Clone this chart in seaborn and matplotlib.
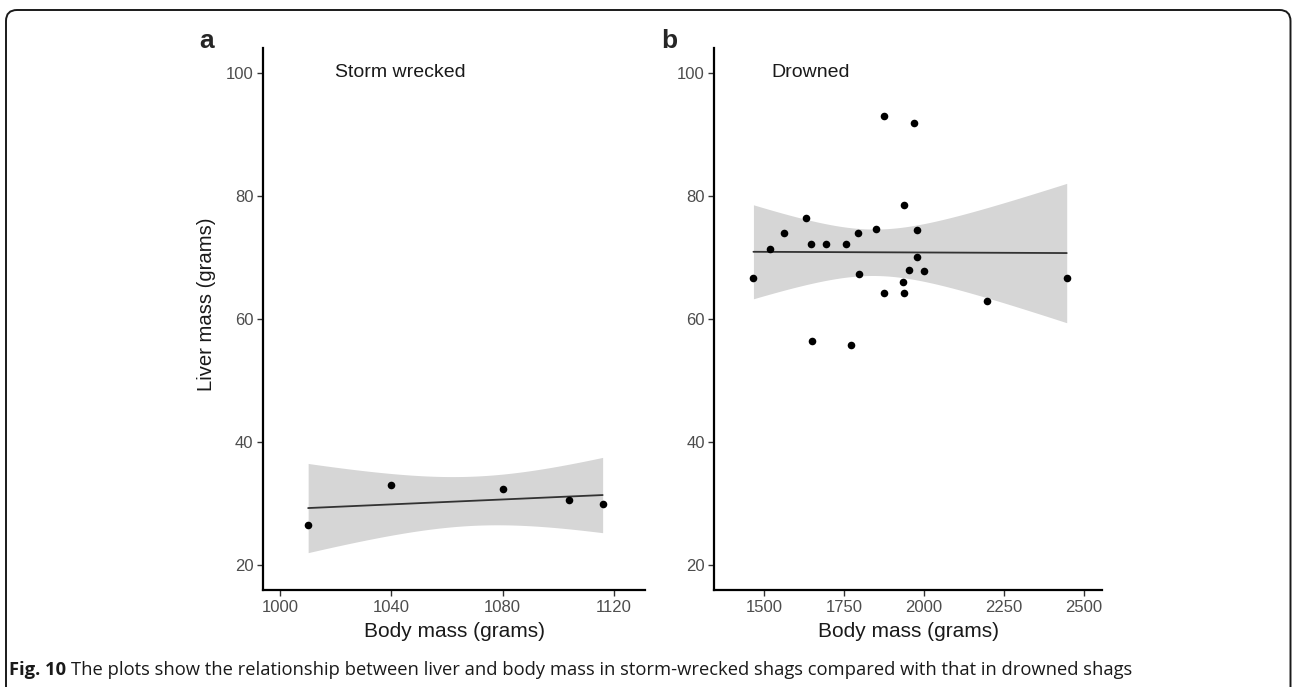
import numpy as np
import pandas as pd
import matplotlib
matplotlib.use("Agg")
import matplotlib.pyplot as plt
import matplotlib.patches as mpatches
from matplotlib.transforms import IdentityTransform
import seaborn as sns

# storm wrecked shags
storm_mass = [1010, 1040, 1080, 1104, 1116]
storm_liver = [26.5, 33.1, 32.4, 30.6, 29.9]

# drowned shags
drowned_mass = [1467, 1519, 1562, 1632, 1646, 1650, 1694, 1755, 1772, 1795, 1798, 1851,
                1874, 1874, 1934, 1938, 1938, 1952, 1969, 1977, 1977, 2000, 2197, 2446]
drowned_liver = [66.6, 71.4, 73.9, 76.4, 72.1, 56.4, 72.1, 72.1, 55.7, 73.9, 67.3, 74.6,
                 92.9, 64.2, 66.0, 78.5, 64.2, 68.0, 91.8, 74.4, 70.1, 67.8, 63.0, 66.6]

y_ticks = [20, 40, 60, 80, 100]
storm_ticks = [1000, 1040, 1080, 1120]
drowned_ticks = [1500, 1750, 2000, 2250, 2500]

# t quantiles (0.975) for df = n - 2
T975 = {3: 3.182446, 22: 2.073873}

sns.set_style("ticks")
plt.rcParams['font.family'] = ['Liberation Sans', 'DejaVu Sans']

W, H = 1292, 687
fig = plt.figure(figsize=(W / 100, H / 100), dpi=100)
ax_a = fig.add_axes([263 / W, 97 / H, 382 / W, 542 / H])
ax_b = fig.add_axes([714.4 / W, 97 / H, 387.2 / W, 542 / H])


def lm_band(x, y):
    # linear fit with 95% confidence band, like geom_smooth(method="lm")
    x = np.asarray(x, float)
    y = np.asarray(y, float)
    n = len(x)
    b, a = np.polyfit(x, y, 1)
    res = y - (a + b * x)
    s = np.sqrt((res ** 2).sum() / (n - 2))
    sxx = ((x - x.mean()) ** 2).sum()
    grid = np.linspace(x.min(), x.max(), 100)
    fit = a + b * grid
    se = s * np.sqrt(1 / n + (grid - x.mean()) ** 2 / sxx)
    return grid, fit - T975[n - 2] * se, fit + T975[n - 2] * se


def panel(ax, mass, liver, xticks, xlim, label_x, title):
    df = pd.DataFrame({"mass": mass, "liver": liver})
    grid, lo, hi = lm_band(df["mass"], df["liver"])
    ax.fill_between(grid, lo, hi, color="#d6d6d6", lw=0, zorder=1)
    sns.regplot(data=df, x="mass", y="liver", ax=ax, ci=None, truncate=True,
                scatter_kws={"s": 30, "color": "black", "alpha": 1, "zorder": 3,
                             "linewidths": 0},
                line_kws={"color": "#333333", "lw": 1.3, "zorder": 2})
    ax.set_xlim(*xlim)
    ax.set_ylim(16, 104)
    ax.set_xticks(xticks)
    ax.set_yticks(y_ticks)
    ax.tick_params(axis="both", labelsize=12, labelcolor="#4d4d4d", color="#333333",
                   length=4.5, width=1, pad=2.5)
    for side in ["top", "right"]:
        ax.spines[side].set_visible(False)
    for side in ["left", "bottom"]:
        ax.spines[side].set_linewidth(1.6)
        ax.spines[side].set_color("black")
    ax.set_xlabel("Body mass (grams)", fontsize=15, color="#1a1a1a", labelpad=5)
    ax.set_ylabel("")
    ax.text(label_x, 100, title, ha="center", va="center", fontsize=14, color="#1a1a1a")


panel(ax_a, storm_mass, storm_liver, storm_ticks, (993.75, 1131.25), 1043, "Storm wrecked")
panel(ax_b, drowned_mass, drowned_liver, drowned_ticks, (1345, 2555), 1645, "Drowned")

ax_a.set_ylabel("Liver mass (grams)", fontsize=14.6, color="#1a1a1a")
ax_a.yaxis.set_label_coords(-0.123, (H - 304 - 97) / 542)

fig.text(207 / W, 1 - 41 / H, "a", fontsize=19, fontweight="bold", ha="center", va="center")
fig.text(669 / W, 1 - 41 / H, "b", fontsize=19, fontweight="bold", ha="center", va="center")

# rounded frame round the figure
frame = mpatches.FancyBboxPatch((6, -30), 1284.5, H - 10 + 30,
                                boxstyle="round,pad=0,rounding_size=11",
                                fill=False, lw=1.4, edgecolor="#1a1a1a",
                                transform=IdentityTransform())
fig.add_artist(frame)

# caption
cap_font = ['Open Sans', 'DejaVu Sans']
t1 = fig.text(9 / W, 12 / H, "Fig. 10", fontsize=13.25, fontweight="bold",
              family=cap_font, va="baseline", color="#1a1a1a")
fig.canvas.draw()
bb = t1.get_window_extent(fig.canvas.get_renderer())
fig.text((bb.x1 + 5) / W, 12 / H,
         "The plots show the relationship between liver and body mass in storm-wrecked "
         "shags compared with that in drowned shags",
         fontsize=13.25, family=cap_font, va="baseline", color="#1a1a1a")

fig.savefig("out.png", dpi=100)
